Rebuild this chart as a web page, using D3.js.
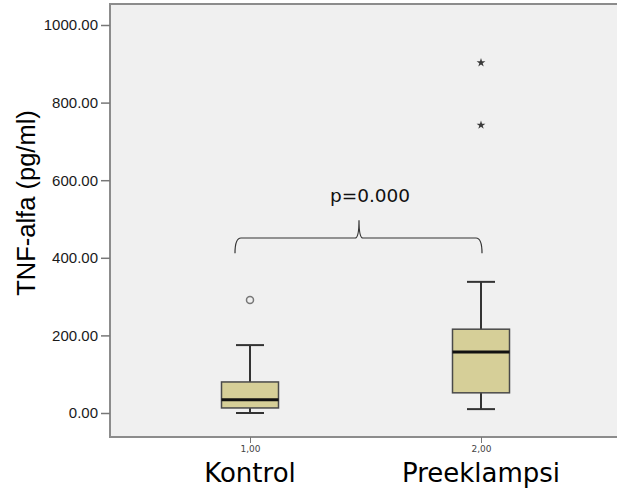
<!DOCTYPE html>
<html>
<head>
<meta charset="utf-8">
<script src="https://cdn.jsdelivr.net/npm/d3@7"></script>
<style>
  body { margin: 0; background: #fff; }
  svg { display: block; }
</style>
</head>
<body>
<div id="chart"></div>
<script>
// Data
const groups = ["1,00", "2,00"];
const groupNames = ["Kontrol", "Preeklampsi"];
const whiskerLow = [0, 10];
const q1 = [13, 52];
const median = [34, 157];
const q3 = [80, 216];
const whiskerHigh = [175, 338];
const outliersCircle = [[0, 291]];           // [group index, value]
const outliersStar = [[1, 742], [1, 903]];
const yTicks = [0, 200, 400, 600, 800, 1000];
const pLabel = "p=0.000";

const W = 618, H = 490;
const frame = { left: 110, top: 4, right: 617, bottom: 437 };

const svg = d3.select("#chart")
    .append("svg")
    .attr("width", W)
    .attr("height", H);

// Scales
const x = d3.scalePoint()
    .domain(groups)
    .range([134.5, 596.5])
    .padding(0.5);

const y = d3.scaleLinear()
    .domain([0, 1000])
    .range([413, 25]);

// Plot background + frame
svg.append("rect")
    .attr("x", frame.left)
    .attr("y", frame.top)
    .attr("width", frame.right - frame.left)
    .attr("height", frame.bottom - frame.top)
    .attr("fill", "#f0f0f0");

svg.append("path")
    .attr("d", `M${frame.right},${frame.top}H${frame.left}V${frame.bottom}H${frame.right}`)
    .attr("fill", "none")
    .attr("stroke", "#8c8c8c")
    .attr("stroke-width", 2);

// Y axis
const yAxis = svg.append("g")
    .attr("transform", `translate(${frame.left},0)`)
    .call(d3.axisLeft(y).tickValues(yTicks).tickFormat(d3.format(".2f")).tickSize(9).tickPadding(3));
yAxis.select(".domain").remove();
yAxis.selectAll("line").attr("stroke", "#777").attr("stroke-width", 1.5);
yAxis.selectAll("text")
    .attr("font-family", "Liberation Sans, Arial, sans-serif")
    .attr("font-size", 15)
    .attr("fill", "#1a1a1a");

// X axis (small group codes)
const xAxis = svg.append("g")
    .attr("transform", `translate(0,${frame.bottom})`)
    .call(d3.axisBottom(x).tickSize(6).tickPadding(3));
xAxis.select(".domain").remove();
xAxis.selectAll("line").attr("stroke", "#777");
xAxis.selectAll("text")
    .attr("font-family", "DejaVu Sans, sans-serif")
    .attr("font-size", 9)
    .attr("fill", "#444");

// Group names
svg.selectAll(".gname")
    .data(groups)
    .enter()
    .append("text")
    .attr("x", d => x(d))
    .attr("y", 482)
    .attr("text-anchor", "middle")
    .attr("font-family", "DejaVu Sans, Verdana, sans-serif")
    .attr("font-size", 26)
    .attr("fill", "#000")
    .text((d, i) => groupNames[i]);

// Y title
svg.append("text")
    .attr("transform", "translate(35,203) rotate(-90)")
    .attr("text-anchor", "middle")
    .attr("font-family", "Liberation Sans, Arial, sans-serif")
    .attr("font-size", 25.5)
    .attr("fill", "#000")
    .text("TNF-alfa (pg/ml)");

// Boxplots
const boxW = 57, capW = 28;
const boxes = groups.map((g, i) => ({
    g: g, lo: whiskerLow[i], q1: q1[i], med: median[i], q3: q3[i], hi: whiskerHigh[i]
}));

const bg = svg.selectAll(".box")
    .data(boxes)
    .enter()
    .append("g");

bg.append("line")
    .attr("x1", d => x(d.g)).attr("x2", d => x(d.g))
    .attr("y1", d => y(d.lo)).attr("y2", d => y(d.hi))
    .attr("stroke", "#333").attr("stroke-width", 2);

bg.selectAll(".cap")
    .data(d => [d.lo, d.hi].map(v => ({ g: d.g, v: v })))
    .enter()
    .append("line")
    .attr("x1", d => x(d.g) - capW / 2).attr("x2", d => x(d.g) + capW / 2)
    .attr("y1", d => y(d.v)).attr("y2", d => y(d.v))
    .attr("stroke", "#333").attr("stroke-width", 2);

bg.append("rect")
    .attr("x", d => x(d.g) - boxW / 2)
    .attr("width", boxW)
    .attr("y", d => y(d.q3))
    .attr("height", d => y(d.q1) - y(d.q3))
    .attr("fill", "#d6cf98")
    .attr("stroke", "#4a4a4a")
    .attr("stroke-width", 1.5);

bg.append("line")
    .attr("x1", d => x(d.g) - boxW / 2).attr("x2", d => x(d.g) + boxW / 2)
    .attr("y1", d => y(d.med)).attr("y2", d => y(d.med))
    .attr("stroke", "#111").attr("stroke-width", 3);

// Outliers
svg.selectAll(".outc")
    .data(outliersCircle)
    .enter()
    .append("circle")
    .attr("cx", d => x(groups[d[0]]))
    .attr("cy", d => y(d[1]))
    .attr("r", 3.5)
    .attr("fill", "none")
    .attr("stroke", "#777")
    .attr("stroke-width", 1.5);

svg.selectAll(".outs")
    .data(outliersStar)
    .enter()
    .append("path")
    .attr("transform", d => `translate(${x(groups[d[0]])},${y(d[1])})`)
    .attr("d", d3.symbol(d3.symbolStar, 24))
    .attr("fill", "#3a3a3a");

// Significance bracket
const bx0 = x(groups[0]) - 15, bx1 = x(groups[1]) + 1;
const bmid = (x(groups[0]) + x(groups[1])) / 2 - 6.5;
const yb = y(451), yEnd = y(412), yTip = y(497);
svg.append("path")
    .attr("d", `M${bx0},${yEnd} Q${bx0},${yb} ${bx0 + 6},${yb} H${bmid - 4} Q${bmid},${yb} ${bmid},${yTip}` +
               ` Q${bmid},${yb} ${bmid + 4},${yb} H${bx1 - 6} Q${bx1},${yb} ${bx1},${yEnd}`)
    .attr("fill", "none")
    .attr("stroke", "#333")
    .attr("stroke-width", 1.2);

svg.append("text")
    .attr("x", bmid + 11)
    .attr("y", 202)
    .attr("text-anchor", "middle")
    .attr("font-family", "DejaVu Sans, Verdana, sans-serif")
    .attr("font-size", 18.5)
    .attr("fill", "#111")
    .text(pLabel);
</script>
</body>
</html>
